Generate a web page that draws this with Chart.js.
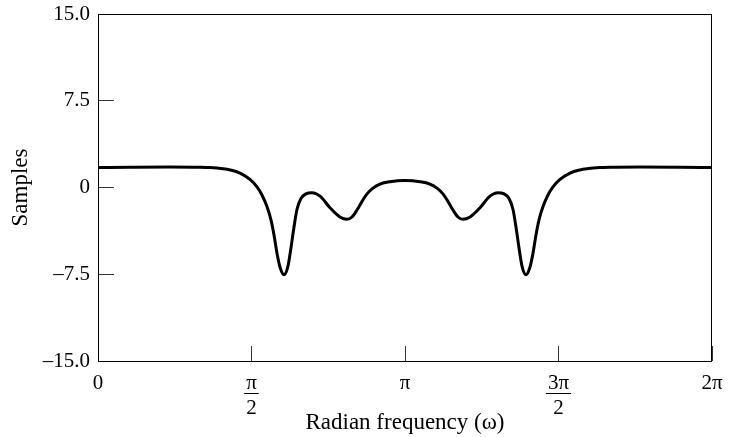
<!DOCTYPE html>
<html>
<head>
<meta charset="utf-8">
<script src="https://cdn.jsdelivr.net/npm/chart.js@4"></script>
<style>
  body { margin: 0; background: #fff; }
</style>
</head>
<body>
<canvas id="delayChart" width="735" height="437"></canvas>
<script>
// radian frequency and value in samples
const omega = [
  0.000, 0.327, 0.737, 1.044, 1.146, 1.279, 1.351, 1.453, 1.555, 1.627,
  1.678, 1.729, 1.770, 1.801, 1.832, 1.863, 1.903, 1.944, 1.975, 2.006,
  2.036, 2.077, 2.128, 2.190, 2.272, 2.374, 2.476, 2.548, 2.599, 2.650,
  2.702, 2.753, 2.814, 2.886, 2.988, 3.142,
  3.295, 3.397, 3.469, 3.530, 3.581, 3.633, 3.684, 3.735, 3.807, 3.909,
  4.011, 4.093, 4.155, 4.206, 4.247, 4.277, 4.308, 4.339, 4.380, 4.420,
  4.451, 4.482, 4.513, 4.554, 4.605, 4.656, 4.728, 4.830, 4.932, 5.004,
  5.137, 5.239, 5.546, 5.956, 6.283
];
const samples = [
  1.72, 1.75, 1.77, 1.75, 1.72, 1.62, 1.52, 1.25, 0.70, 0.05,
  -0.65, -1.65, -2.80, -4.10, -5.70, -6.90, -7.55, -6.80, -5.20, -3.40,
  -1.90, -0.95, -0.55, -0.45, -0.75, -1.75, -2.55, -2.75, -2.55, -1.95,
  -1.20, -0.55, -0.05, 0.30, 0.50, 0.60,
  0.50, 0.30, -0.05, -0.55, -1.20, -1.95, -2.55, -2.75, -2.55, -1.75,
  -0.75, -0.45, -0.55, -0.95, -1.90, -3.40, -5.20, -6.80, -7.55, -6.90,
  -5.70, -4.10, -2.80, -1.65, -0.65, 0.05, 0.70, 1.25, 1.52, 1.62,
  1.72, 1.75, 1.77, 1.75, 1.72
];

const yTickValues = [-15, -7.5, 0, 7.5, 15];
const yTickLabels = ['–15.0', '–7.5', '0', '7.5', '15.0'];
const xTickValues = [0, Math.PI / 2, Math.PI, 3 * Math.PI / 2, 2 * Math.PI];
const xTickLabels = [['0'], ['π', '', '2'], ['π'], ['3π', '', '2'], ['2π']];

const FONT = "'Liberation Serif', serif";
Chart.defaults.font.family = FONT;
Chart.defaults.color = '#000';

// box around the plot area
const frame = {
  id: 'frame',
  afterDraw(chart) {
    const { ctx, chartArea: a } = chart;
    ctx.save();
    ctx.strokeStyle = '#000';
    ctx.lineWidth = 1;
    ctx.strokeRect(Math.round(a.left) + 0.5, Math.round(a.top) + 0.5,
      Math.round(a.right - a.left) - 1, Math.round(a.bottom - a.top));
    ctx.restore();
  }
};

// fraction bars under the pi numerators
const fractionBars = {
  id: 'fractionBars',
  afterDraw(chart) {
    const { ctx } = chart;
    const xs = chart.scales.x;
    ctx.save();
    ctx.font = '21px ' + FONT;
    ctx.strokeStyle = '#000';
    ctx.lineWidth = 1;
    xTickLabels.forEach((lines, i) => {
      if (lines.length < 3) return;
      const cx = xs.getPixelForValue(xTickValues[i]);
      const half = ctx.measureText(lines[0]).width / 2 + 2;
      const y = Math.round(xs.top + 32) + 0.5;
      ctx.beginPath();
      ctx.moveTo(cx - half, y);
      ctx.lineTo(cx + half, y);
      ctx.stroke();
    });
    ctx.restore();
  }
};

const noPad = s => { s.paddingTop = s.paddingBottom = s.paddingLeft = s.paddingRight = 0; };

new Chart(document.getElementById('delayChart'), {
  type: 'line',
  data: {
    datasets: [{
      data: omega.map((w, i) => ({ x: w, y: samples[i] })),
      borderColor: '#000',
      borderWidth: 3,
      pointRadius: 0,
      fill: false,
      cubicInterpolationMode: 'monotone'
    }]
  },
  options: {
    responsive: false,
    animation: false,
    layout: { padding: { left: 0, right: 23, top: 14, bottom: 0 } },
    plugins: { legend: { display: false }, tooltip: { enabled: false } },
    scales: {
      x: {
        type: 'linear',
        min: 0,
        max: 2 * Math.PI,
        afterBuildTicks: s => { s.ticks = xTickValues.map(v => ({ value: v })); },
        afterFit: s => { s.height = 76; noPad(s); },
        ticks: {
          autoSkip: false,
          maxRotation: 0,
          padding: 31,
          font: { size: 21, lineHeight: '12.5px' },
          callback: (v, i) => xTickLabels[i]
        },
        grid: { drawOnChartArea: false, tickLength: -15, color: '#333' },
        border: { display: false },
        title: {
          display: true,
          text: 'Radian frequency (ω)',
          font: { size: 23 },
          padding: { top: 0, bottom: 0 }
        }
      },
      y: {
        min: -15,
        max: 15,
        afterBuildTicks: s => { s.ticks = yTickValues.map(v => ({ value: v })); },
        afterFit: s => { s.width = 98; noPad(s); },
        ticks: {
          padding: 24,
          font: { size: 21 },
          callback: (v, i) => yTickLabels[i]
        },
        grid: { drawOnChartArea: false, tickLength: -16, color: '#333' },
        border: { display: false },
        title: {
          display: true,
          text: 'Samples',
          font: { size: 23 },
          padding: { top: 7, bottom: 0 }
        }
      }
    }
  },
  plugins: [frame, fractionBars]
});
</script>
</body>
</html>
